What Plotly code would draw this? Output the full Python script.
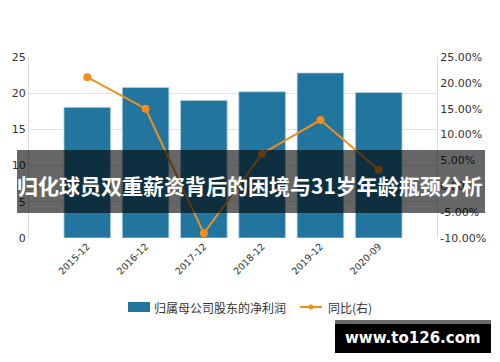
import plotly.graph_objects as go

categories = ["2015-12", "2016-12", "2017-12", "2018-12", "2019-12", "2020-09"]
net_profit = [18.05, 20.8, 19.0, 20.2, 22.8, 20.1]
yoy_pct = [21.1, 15.0, -9.1, 6.3, 12.8, 3.2]
left_ticks = [0, 5, 10, 15, 20, 25]
right_ticks = [-10, -5, 0, 5, 10, 15, 20, 25]
right_tick_labels = ["-10.00%", "-5.00%", "0.00%", "5.00%", "10.00%", "15.00%", "20.00%", "25.00%"]
title_text = "归化球员双重薪资背后的困境与31岁年龄瓶颈分析"
legend_names = ["归属母公司股东的净利润", "同比(右)"]
watermark = "www.to126.com"

W, H = 500, 362
L, R, T, B = 29, 437, 57, 238

BLUE = "#21759f"
ORANGE = "#f28e1c"
CJK = "Noto Sans CJK SC"
NUM = "DejaVu Sans"


def px(x):
    return (x - L) / (R - L)


def py(y):
    return (B - y) / (B - T)


fig = go.Figure()
fig.add_trace(go.Bar(
    x=list(range(len(categories))), y=net_profit, width=0.8,
    marker=dict(color=BLUE, line=dict(color="rgba(180,210,230,0.8)", width=1)),
    name=legend_names[0], showlegend=False, yaxis="y",
))
fig.add_trace(go.Scatter(
    x=list(range(len(categories))), y=yoy_pct, mode="lines+markers",
    line=dict(color=ORANGE, width=2), marker=dict(color=ORANGE, size=8),
    name=legend_names[1], showlegend=False, yaxis="y2",
))

fig.update_layout(
    width=W, height=H,
    margin=dict(l=L, r=W - R, t=T, b=H - B),
    paper_bgcolor="white", plot_bgcolor="white",
    xaxis=dict(
        range=[-1, 6], tickmode="array", tickvals=list(range(len(categories))),
        ticktext=categories, tickangle=-45, showgrid=False, zeroline=False,
        tickfont=dict(family=NUM, size=9.5, color="#333"), showline=False,
        automargin=False,
    ),
    yaxis=dict(
        range=[0, 25], tickvals=left_ticks, showgrid=True, gridcolor="#e3e3e3",
        gridwidth=1, zeroline=False, showline=True, linecolor="#dcdcdc",
        tickfont=dict(family=NUM, size=11, color="#333"), ticks="",
        automargin=False,
    ),
    yaxis2=dict(
        range=[-10, 25], tickvals=right_ticks, ticktext=right_tick_labels,
        overlaying="y", side="right", showgrid=False, zeroline=False,
        showline=True, linecolor="#dcdcdc",
        tickfont=dict(family=NUM, size=11, color="#333"), ticks="",
        automargin=False,
    ),
    showlegend=False,
)

shapes = []
annotations = []

# legend (manual)
shapes.append(dict(type="rect", xref="paper", yref="paper",
                   x0=px(128), x1=px(150), y0=py(312), y1=py(302),
                   fillcolor=BLUE, line=dict(width=0)))
annotations.append(dict(xref="paper", yref="paper", x=px(152), y=py(307),
                        text=legend_names[0], showarrow=False, xanchor="left",
                        yanchor="middle", font=dict(family=CJK, size=12, color="#333")))
shapes.append(dict(type="line", xref="paper", yref="paper",
                   x0=px(300), x1=px(322), y0=py(307), y1=py(307),
                   line=dict(color=ORANGE, width=2)))
shapes.append(dict(type="circle", xref="paper", yref="paper",
                   x0=px(308.5), x1=px(313.5), y0=py(309.5), y1=py(304.5),
                   fillcolor=ORANGE, line=dict(width=0)))
annotations.append(dict(xref="paper", yref="paper", x=px(326), y=py(307),
                        text=legend_names[1], showarrow=False, xanchor="left",
                        yanchor="middle", font=dict(family=CJK, size=12, color="#333")))

# title banner overlay
shapes.append(dict(type="rect", xref="paper", yref="paper", layer="above",
                   x0=px(17), x1=px(485), y0=py(213), y1=py(150),
                   fillcolor="rgba(0,0,0,0.6)", line=dict(width=0)))
annotations.append(dict(xref="paper", yref="paper", x=px(250), y=py(185),
                        text="<b>" + title_text + "</b>", showarrow=False,
                        xanchor="center", yanchor="middle",
                        font=dict(family=CJK, size=21, color="white")))

# watermark
shapes.append(dict(type="rect", xref="paper", yref="paper", layer="above",
                   x0=px(335), x1=px(491), y0=py(353), y1=py(320),
                   fillcolor="black", line=dict(width=0)))
shapes.append(dict(type="rect", xref="paper", yref="paper", layer="above",
                   x0=px(335), x1=px(491), y0=py(324), y1=py(320),
                   fillcolor="#6a6a6a", line=dict(width=0)))
annotations.append(dict(xref="paper", yref="paper", x=px(413), y=py(338),
                        text="<b>" + watermark + "</b>", showarrow=False,
                        xanchor="center", yanchor="middle",
                        font=dict(family=NUM, size=15, color="white")))

fig.update_layout(shapes=shapes, annotations=annotations)
fig.write_html("out.html", config={"displayModeBar": False},
               post_script="document.body.style.margin='0';")
